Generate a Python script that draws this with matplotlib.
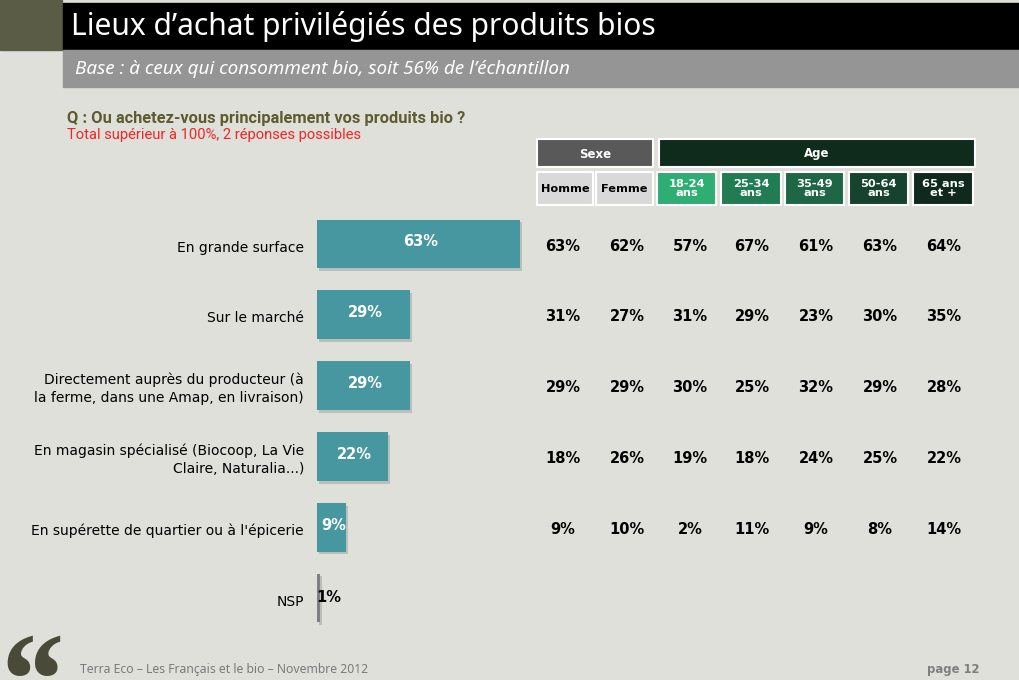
import matplotlib
matplotlib.use("Agg")
import matplotlib.pyplot as plt
import matplotlib.patheffects as pe
from matplotlib.patches import Rectangle
from matplotlib.transforms import blended_transform_factory

# --- data ---
categories = ["En grande surface", "Sur le marché",
              "Directement auprès du producteur (à\nla ferme, dans une Amap, en livraison)",
              "En magasin spécialisé (Biocoop, La Vie\nClaire, Naturalia...)",
              "En supérette de quartier ou à l'épicerie", "NSP"]
total = [63, 29, 29, 22, 9, 1]

groups = ["Sexe", "Age"]
columns = ["Homme", "Femme", "18-24\nans", "25-34\nans", "35-49\nans", "50-64\nans", "65 ans\net +"]
homme = [63, 31, 29, 18, 9]
femme = [62, 27, 29, 26, 10]
age_18_24 = [57, 31, 30, 19, 2]
age_25_34 = [67, 29, 25, 18, 11]
age_35_49 = [61, 23, 32, 24, 9]
age_50_64 = [63, 30, 29, 25, 8]
age_65 = [64, 35, 28, 22, 14]
table = [homme, femme, age_18_24, age_25_34, age_35_49, age_50_64, age_65]

bg_col = "#e0e0da"
teal = "#4797a0"

fig = plt.figure(figsize=(10.2, 6.8), dpi=100)
fig.patch.set_facecolor(bg_col)

# overlay in pixel units for the slide decoration
bg = fig.add_axes([0, 0, 1, 1])
bg.set_xlim(0, 1020)
bg.set_ylim(680, 0)
bg.axis("off")

bg.add_patch(Rectangle((0, 0), 62, 50, color="#5b5c45"))
bg.add_patch(Rectangle((63, 3), 957, 47, color="black"))
bg.add_patch(Rectangle((63, 50), 957, 37, color="#959595"))
bg.text(71, 27, "Lieux d’achat privilégiés des produits bios", color="white",
        fontsize=21.6, family="Noto Sans", va="center", ha="left")
bg.text(75, 69, "Base : à ceux qui consomment bio, soit 56% de l’échantillon", color="white",
        fontsize=13.6, family="Noto Sans", style="italic", va="center", ha="left")
bg.text(67, 119, "Q : Ou achetez-vous principalement vos produits bio ?", color="#5c5c2e",
        fontsize=11.75, family="Roboto", weight="bold", va="center", ha="left")
bg.text(67, 135, "Total supérieur à 100%, 2 réponses possibles", color="#f02525",
        fontsize=10.6, family="Roboto", va="center", ha="left")

# footer
bg.text(28, 693, "“", color="#4a4a38", fontsize=96, family="Liberation Serif", weight="bold",
        style="italic", va="center", ha="center")
bg.text(80, 670, "Terra Eco – Les Français et le bio – Novembre 2012", color="#7a7a7a",
        fontsize=8.8, family="Noto Sans", va="center", ha="left")
bg.text(980, 670, "page 12", color="#7f7f7f", fontsize=8.4, family="DejaVu Sans",
        weight="bold", va="center", ha="right")

# table header boxes
shadow = [pe.SimplePatchShadow(offset=(1, -1), alpha=0.2), pe.Normal()]
group_boxes = [(537, 116, "#595959"), (659, 316, "#0f2b1c")]
for (x0, w, c), name in zip(group_boxes, groups):
    bg.add_patch(Rectangle((x0, 139), w, 28, facecolor=c, edgecolor="white", lw=1.5,
                           path_effects=shadow))
    bg.text(x0 + w / 2, 154, name, color="white", fontsize=8.5, weight="bold",
            ha="center", va="center")

col_x = [537, 596, 657, 721, 785, 849, 913]
col_w = [56, 57, 59, 60, 59, 59, 60]
col_colors = ["#d9d9d9", "#d9d9d9", "#2fae73", "#217c53", "#1e6646", "#15432d", "#0f2a1c"]
col_text = ["black", "black", "white", "white", "white", "white", "white"]
for x0, w, c, tc, name in zip(col_x, col_w, col_colors, col_text, columns):
    bg.add_patch(Rectangle((x0, 172), w, 33, facecolor=c, edgecolor="white", lw=1.5,
                           path_effects=shadow))
    bg.text(x0 + w / 2, 188.5, name, color=tc, fontsize=8.2, weight="bold",
            ha="center", va="center", linespacing=0.95)

# bars axes: x from 317 px, 3.22 px per %
px = 3.22
ax = fig.add_axes([317 / 1020, 1 - 633.4 / 680, 100 * px / 1020, (633.4 - 208.6) / 680])
ax.set_xlim(0, 100)
ax.set_ylim(len(categories) - 0.5, -0.5)
ax.axis("off")

ypos = list(range(len(categories)))
colors = [teal] * (len(categories) - 1) + ["#7f7f7f"]
bars = ax.barh(ypos, total, height=0.69, color=colors)
for b in bars:
    b.set_path_effects([pe.SimplePatchShadow(offset=(1.5, -2), alpha=0.18), pe.Normal()])

for y, v in zip(ypos, total):
    if v >= 5:
        ax.text(v / 2 + 0.6, y - 0.03, f"{v}%", color="white", fontsize=10.5, weight="bold",
                ha="center", va="center")
    else:
        ax.text(-0.3, y, f"{v}%", color="black", fontsize=10.5, weight="bold",
                ha="left", va="center")

# category labels
lab_tr = blended_transform_factory(fig.transFigure, ax.transData)
for y, name in zip(ypos, categories):
    ax.text(304 / 1020, y + 0.05, name, transform=lab_tr, ha="right", va="center",
            fontsize=10, linespacing=1.35, color="black")

# table values
col_centers = [563, 627, 690, 752, 816, 880, 944]
for cx, vals in zip(col_centers, table):
    for y, v in zip(ypos, vals):
        ax.text(cx / 1020, y + 0.03, f"{v}%", transform=lab_tr, ha="center", va="center",
                fontsize=10.5, weight="bold", color="black")

fig.savefig("out.png", dpi=100, facecolor=fig.get_facecolor())
